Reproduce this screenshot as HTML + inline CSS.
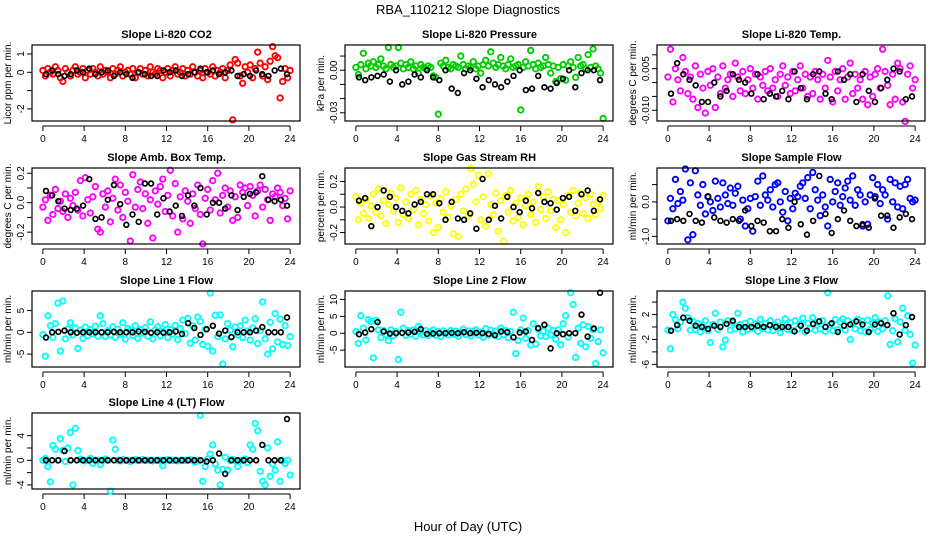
<!DOCTYPE html>
<html><head><meta charset="utf-8"><style>
body{margin:0;background:#fff;}
svg{display:block;font-family:"Liberation Sans",Arial,sans-serif;}
</style></head><body>
<svg id="chart" width="936" height="540" viewBox="0 0 936 540" xmlns="http://www.w3.org/2000/svg">
<rect width="936" height="540" fill="#fff"/>
<text x="468" y="14" text-anchor="middle" font-size="13">RBA_110212  Slope Diagnostics</text>
<text x="468" y="531" text-anchor="middle" font-size="13">Hour of Day (UTC)</text>
</svg>
<script>
const xTicks=[0,4,8,12,16,20,24];
const co2Vals=[0.1,-0.2,0.2,0.0,-0.1,0.3,0.1,-0.3,-0.5,0.2,0.0,-0.2,0.1,0.3,-0.1,0.0,0.2,-0.3,0.1,-0.1,0.2,0.0,-0.2,0.3,-0.1,0.1,0.0,-0.3,0.2,-0.1,0.1,0.3,-0.2,0.0,0.1,-0.1,0.2,-0.3,0.0,0.2,-0.1,0.1,-0.2,0.3,0.0,-0.1,0.2,0.1,-0.3,0.0,0.2,-0.2,0.1,0.3,-0.1,0.0,0.2,-0.2,0.1,-0.1,0.3,0.0,-0.2,0.1,-0.3,0.2,0.0,-0.1,0.3,-0.2,0.1,0.0,0.2,-0.3,0.1,0.4,-2.6,0.7,0.5,-0.2,-0.6,0.3,0.0,0.4,-0.3,0.2,1.1,0.5,-0.2,0.3,-0.4,0.6,1.4,0.9,0.8,-1.4,-0.5,0.2,-0.3,0.1];
const co2Black=[-0.1,0.1,-0.1,-0.2,-0.1,0.1,0.0,0.2,-0.1,0.0,0.1,-0.2,0.0,-0.1,-0.3,0.0,-0.1,-0.2,-0.2,0.1,0.0,0.1,-0.2,-0.1,0.0,0.2,0.0,0.1,-0.1,0.0,0.1,-0.2,-0.1,-0.2,0.1,-0.1,-0.2,0.1,0.2,-0.1];
const presVals=[.002,-.003,.004,.012,.001,.005,.003,.006,.002,.004,.008,.003,.001,.016,.004,.002,.003,.016,.005,.001,.004,.002,.006,.001,.003,-.002,.004,.002,.001,.003,.002,-.004,-.005,-.031,.005,.003,.007,.002,.001,.004,.003,.002,.010,.004,.001,.003,.002,.006,.001,.003,-.002,.004,.007,.003,.013,.005,.002,.004,.009,.003,.001,.004,.008,.002,.003,.004,-.028,.002,.006,.003,.014,.004,.001,.005,.002,.003,.009,.004,-.002,.003,-.008,.002,-.006,.004,-.007,.003,.006,.002,-.005,.009,.003,.004,.001,.011,.002,.015,.003,.001,-.002,-.034];
const presBlack=[-.005,-.007,-.005,-.004,-.003,-.008,.000,-.010,-.008,-.003,-.005,.000,-.005,-.007,.000,-.013,-.016,-.002,.000,-.006,-.012,-.007,-.010,-.012,-.008,-.004,.000,-.014,-.013,-.004,-.012,-.013,-.009,-.006,.000,-.012,-.002,.000,.000,-.007];
const tempVals=[.002,.012,-.007,.005,.001,-.003,.009,.004,-.004,.002,-.006,.006,-.009,.003,-.002,-.011,.004,-.001,.005,-.009,.002,-.004,.006,-.002,.001,.003,-.005,.007,.002,-.003,.004,-.004,.001,.005,-.002,.003,-.006,.002,-.001,.004,-.003,.005,-.002,.001,-.005,.003,.006,-.001,.002,-.004,.004,-.003,.001,.006,-.002,.003,-.005,.002,-.004,.004,.001,-.006,.003,-.002,.008,.002,-.007,.004,-.003,.001,.005,-.006,.002,.007,-.004,.003,-.002,.001,-.006,.004,-.008,.002,-.005,.003,.005,-.002,.012,.004,-.001,-.008,.003,-.006,.007,.005,-.007,-.014,.003,.006,-.002,.001];
const tempBlack=[-.004,.007,.003,.001,-.001,-.007,-.007,.000,-.005,-.003,.003,.001,.000,-.004,.003,-.006,-.004,-.005,-.003,-.006,.004,-.002,-.006,.003,.004,-.004,-.006,.004,.001,.003,-.007,.003,-.003,-.007,-.002,.001,.005,.004,-.006,-.005];
const ambVals=[-.03,.02,-.12,.05,-.08,.09,-.04,.01,-.06,.06,-.10,.03,-.02,.07,-.05,.15,-.09,.17,.02,-.07,.04,.11,-.18,-.20,.06,-.03,.08,-.13,.03,.16,-.05,.12,-.10,.07,.01,-.26,.19,-.03,.09,.14,-.04,.06,-.14,.02,-.24,.08,-.01,.11,.16,-.06,.05,.22,-.09,.13,-.20,.04,-.11,.08,.01,-.14,.06,-.04,.12,-.08,-.28,.03,.09,-.05,.15,.02,.20,-.07,.05,.10,-.03,.08,-.12,.04,-.10,.12,.07,.10,-.02,.11,.05,-.09,.08,.12,-.03,.09,.02,-.12,.06,.04,.10,.07,-.02,.03,-.11,.08];
const ambBlack=[.08,.05,.01,-.04,-.05,-.04,-.02,.16,-.11,-.10,.02,.12,-.01,-.15,-.08,-.13,.13,.13,-.08,.03,-.06,-.02,-.09,.05,-.02,.10,-.08,.00,.00,-.04,.05,-.05,.04,.06,.07,.18,.02,.01,.02,-.02];
const rhVals=[.08,-.10,.03,-.05,.06,-.09,.01,.10,-.04,.14,-.07,.05,-.13,.02,.11,-.03,.07,-.12,.15,-.06,.04,-.09,.10,-.02,.13,-.14,.06,-.05,.02,-.11,.09,-.20,.03,-.16,.07,-.04,.12,-.08,.01,-.21,.06,-.23,.10,-.03,.14,-.07,.30,.18,.04,.25,-.10,.08,-.15,.26,.02,-.06,.11,-.19,.05,-.27,.09,-.04,.13,-.11,.03,-.08,.07,-.14,.01,.10,-.06,.04,-.12,.16,-.02,.08,-.09,.12,-.03,.06,-.16,.05,-.10,.02,-.20,.09,-.04,.13,-.07,.03,.11,-.05,.07,-.09,.10,.02,-.06,.04,-.01,.09];
const rhBlack=[.05,.07,-.15,.00,.13,.08,.00,-.03,-.05,.02,.04,.10,.10,.03,-.10,.04,-.09,-.10,-.05,-.17,.22,-.10,.01,-.09,.08,.00,-.04,.05,-.01,.11,.04,.03,-.02,.07,.08,-.03,.10,.13,-.03,.06];
const sampVals=[-.55,.10,-.20,.65,-.05,.30,.05,.95,-1.10,.55,-.95,.90,.20,-.10,.50,-.35,.15,.00,-.25,.60,.10,-.15,.55,.20,-.05,.40,-.10,.25,.45,-.50,.05,-.70,-.20,.10,-.85,.15,.60,-.10,.75,.20,.05,.35,-.15,.50,.55,.00,-.30,.30,-.55,.10,-.20,.25,.15,.45,.55,.10,.70,-.20,.85,.35,.05,-.40,.20,-.15,-.70,.65,.00,.30,.55,-.10,.15,.40,.60,.05,.75,-.10,.35,.20,-.70,.00,-.65,.20,.70,.15,.50,-.05,.35,.20,-.50,.65,.00,.55,-.15,.45,-.20,.50,.65,.10,.00,.05];
const sampBlack=[-.55,-.50,-.55,-.35,-.55,-.60,.15,-.45,-.55,-.60,-.50,-.55,-.25,-.70,-.55,-.60,-.85,-.85,-.50,-.75,.00,-.65,-.95,-.55,.75,-.35,-.90,-.50,-.25,-.55,-.70,-.65,-.75,.10,-.40,-.40,-.75,-.45,-.35,-.50];
const l1Vals=[-.5,-5.5,3.8,1.5,-1.2,2.0,6.7,-4.3,7.2,-1.5,.8,2.2,-.6,1.0,-3.7,.5,-1.4,1.2,-.8,.6,-.3,1.4,-.9,3.8,2.0,-1.0,.4,-.6,1.3,-1.2,.7,-.5,2.2,-1.6,.9,.3,-.7,1.5,-1.4,.6,-.2,1.1,-.9,2.4,-1.5,.5,1.3,-.8,.2,1.8,-1.2,.6,-.4,1.6,-1.7,.9,2.8,-.3,3.2,-2.5,1.5,-1.8,3.5,2.5,-2.8,.7,-3.2,9.0,-4.3,3.9,-1.0,4.0,-7.3,-1.5,2.0,.5,-3.3,1.2,-.6,1.5,-1.2,2.8,.3,-1.8,1.0,3.1,-2.6,.4,7.0,-1.5,-5.0,2.3,-3.8,4.3,-2.2,3.0,-2.8,1.5,-3.0,-1.0];
const l1Black=[-1.2,0,.1,.4,0,-.1,0,0,0,0,0,.1,0,0,0,.2,.1,-.1,0,-.1,0,.2,-.4,2.1,1.0,-.6,.7,1.5,-.3,.4,-1.1,0,0,0,.4,1.2,0,0,0,3.4];
const l2Vals=[.5,-3.0,5.2,1.5,-2.0,4.0,3.5,-7.3,3.8,1.0,-1.3,.8,-.5,-2.2,1.0,-.8,.5,-7.8,6.2,1.5,-.6,.8,-.3,1.0,-.9,2.0,.4,-.5,.8,-.7,.3,1.0,-.6,.5,-1.0,.7,.2,-.5,.8,-.3,.6,-.9,.4,1.2,-.4,.7,-.8,.5,1.0,-.5,.3,-1.2,1.4,-.6,.9,-.2,.6,-1.0,1.5,-.4,.8,-1.3,.5,6.2,-6.0,-2.2,1.0,4.5,-1.5,.8,-3.5,2.8,-3.2,1.2,-.8,.6,-1.0,1.5,-.5,.8,-1.8,1.0,-3.4,2.8,5.2,-1.2,12.0,8.5,-7.2,1.5,-3.0,2.5,-4.0,2.0,-1.5,1.0,-9.0,-2.5,1.0,-5.8];
const l2Black=[-.3,.2,1.2,3.3,.5,-.1,0,.1,.2,.4,1.2,-.2,-.1,0,0,.1,0,.3,0,.1,0,-.2,-.6,.5,.3,-1.2,.2,.5,-2.0,1.5,2.5,-4.5,0,-.3,0,0,5.5,-1.0,1.4,12.0];
const l3Vals=[-.5,-3.5,2.0,1.2,-.3,.8,4.0,3.0,1.5,-.5,.9,-.4,.6,-.8,.3,1.0,-.6,-2.5,.4,2.2,-.4,.8,-3.2,-2.1,1.0,-.5,.7,-.3,2.2,.4,-.8,.6,-.4,.9,-.2,.5,-.7,1.2,-.3,.6,-.5,1.0,-.6,.3,.8,-.9,.4,1.3,-.4,.7,-.6,1.0,-.3,.5,1.4,-.8,.6,-.2,1.5,-.5,.8,-.3,1.0,-.7,5.5,.4,-.6,1.2,-.4,.8,1.3,-.5,1.0,-2.0,.6,-.3,1.2,-.6,.9,-.8,1.1,-.4,.6,1.5,-.7,.8,-.3,1.0,5.0,-2.8,-.6,1.3,-2.4,.8,3.0,-.5,1.8,-1.2,-5.8,-2.9];
const l3Black=[-.6,.3,1.5,1.0,.2,0,-.3,.2,0,.5,1.0,0,0,0,.2,0,.3,0,0,0,-.7,.2,-.6,.5,.9,0,.6,-.8,.2,.4,.9,.4,-.8,.4,.6,.3,2.2,-1.2,.3,1.6];
const l4Vals=[0,.3,-1,-3.5,2.4,1.8,0,3.5,1.6,-.2,2,4.5,-4,5.2,1.6,.2,0,-.1,0,.3,-.5,0,0,-.7,0,.2,0,-5,3.3,1.8,0,-.1,.1,0,0,-.2,0,.1,0,0,.1,0,0,0,-.1,0,0,0,-.9,0,.1,0,0,0,-.1,0,0,0,0,.1,0,-.3,0,7.3,-3.4,-1,.2,1,2.5,-.6,-1.6,-4,-1.5,.5,-1.6,0,.1,0,-1,0,0,.2,-.4,2.5,1.8,6,4.8,-1.8,-3.4,-4,2,-2.6,-.6,-1.6,3,-3.4,0,-.5,0,-2.4];
const l4Black=[0,0,0,1.5,0,0,0,0,0,0,0,0,0,0,0,0,0,0,0,0,0,0,0,0,0,0,-.2,0,1.1,-2.2,0,0,0,0,0,2.5,0,0,0,6.7];

const titles=["Slope Li-820 CO2","Slope Li-820 Pressure","Slope Li-820 Temp.","Slope Amb. Box Temp.","Slope Gas Stream RH","Slope Sample Flow","Slope Line 1 Flow","Slope Line 2 Flow","Slope Line 3 Flow","Slope Line 4 (LT) Flow"];
const yTitles=["Licor ppm per min.","kPa per min.","degrees C per min.","degrees C per min.","percent per min.","ml/min per min.","ml/min per min.","ml/min per min.","ml/min per min.","ml/min per min."];
const colors=["#ff0000","#00cd00","#ff00ff","#ff00ff","#ffff00","#0000ff","#00ffff","#00ffff","#00ffff","#00ffff"];
const seriesVals=[co2Vals,presVals,tempVals,ambVals,rhVals,sampVals,l1Vals,l2Vals,l3Vals,l4Vals];
const seriesBlack=[co2Black,presBlack,tempBlack,ambBlack,rhBlack,sampBlack,l1Black,l2Black,l3Black,l4Black];
const yMins=[-2.66,-0.0358,-0.01386,-0.2805,-0.29,-1.22,-7.97,-10,-6.43,-4.66];
const yMaxs=[1.49,0.0178,0.01353,0.2356,0.306,0.98,9.49,12.5,5.78,7.68];
const yTickVals=[[1,0,-1,-2],[0.01,0,-0.01,-0.02,-0.03],[0.01,0.005,0,-0.005,-0.01],[0.2,0.1,0,-0.1,-0.2],[0.2,0.1,0,-0.1,-0.2],[0.5,0,-0.5,-1],[5,0,-5],[10,5,0,-5],[4,2,0,-2,-4,-6],[4,2,0,-2,-4]];
const yTickLabels=[["1","0","","-2"],["","0.00","","","-0.03"],["","0.005","","","-0.010"],["0.2","","0.0","","-0.2"],["0.2","","0.0","","-0.2"],["","0.0","","-1.0"],["5","0","-5"],["10","5","0","-5"],["","2","","-2","","-6"],["4","","0","","-4"]];

const NS="http://www.w3.org/2000/svg";
const svg=document.getElementById('chart');
function mk(tag,attrs,parent){const e=document.createElementNS(NS,tag);for(const k in attrs)e.setAttribute(k,attrs[k]);(parent||svg).appendChild(e);return e;}
const colLeft=[33,346,658], colW=267, rowTop=[45,168,291,413], boxH=76;
seriesVals.forEach((vals,p)=>{
  const c=p%3, r=Math.floor(p/3);
  const L=colLeft[c], T=rowTop[r], R=L+colW, B=T+boxH;
  const g=mk('g',{});
  
  
  const xs=h=>L+(h+0.96)/25.92*colW;
  const ys=v=>B-(v-yMins[p])/(yMaxs[p]-yMins[p])*boxH;
  const t=mk('text',{x:(L+R)/2,y:T-7,'text-anchor':'middle','font-size':'11','font-weight':'bold'},g);
  t.textContent=titles[p];
  
  
  const yt=mk('text',{x:L-22,y:(T+B)/2,'text-anchor':'middle','font-size':'10',transform:`rotate(-90 ${L-22} ${(T+B)/2})`},g);
  yt.textContent=yTitles[p];
  
  
  mk('line',{x1:xs(0),x2:xs(24),y1:B+5,y2:B+5,stroke:'#000','stroke-width':1},g);
  xTicks.forEach(h=>{
    mk('line',{x1:xs(h),x2:xs(h),y1:B+5,y2:B+10,stroke:'#000','stroke-width':1},g);
    const tl=mk('text',{x:xs(h),y:B+21,'text-anchor':'middle','font-size':'10'},g);
    tl.textContent=h;
    
    
  });
  const tv=yTickVals[p];
  mk('line',{x1:L-1,x2:L-1,y1:ys(tv[0]),y2:ys(tv[tv.length-1]),stroke:'#000','stroke-width':1},g);
  tv.forEach((v,i)=>{
    mk('line',{x1:L-6,x2:L-1,y1:ys(v),y2:ys(v),stroke:'#000','stroke-width':1},g);
    const lab=yTickLabels[p][i];
    if(lab){const yl=mk('text',{x:L-9,y:ys(v),'text-anchor':'middle','font-size':'10',transform:`rotate(-90 ${L-9} ${ys(v)})`},g);
      yl.textContent=lab;
      
      }
  });
  const n=vals.length;
  vals.forEach((v,i)=>{
    const h=i*24/(n-1);
    const cc=mk('circle',{cx:xs(h),cy:ys(v),r:2.7,fill:'none',stroke:colors[p],'stroke-width':1.9},g);
    
    
  });
  seriesBlack[p].forEach((v,i)=>{
    const h=0.3+i*0.6;
    const bc=mk('circle',{cx:xs(h),cy:ys(v),r:2.4,fill:'none',stroke:'#000','stroke-width':1.7},g);
    
    
  });
  mk('rect',{x:L-1,y:T,width:colW+1,height:boxH,fill:'none',stroke:'#000','stroke-width':1.2},g);
});
</script>
</body></html>
